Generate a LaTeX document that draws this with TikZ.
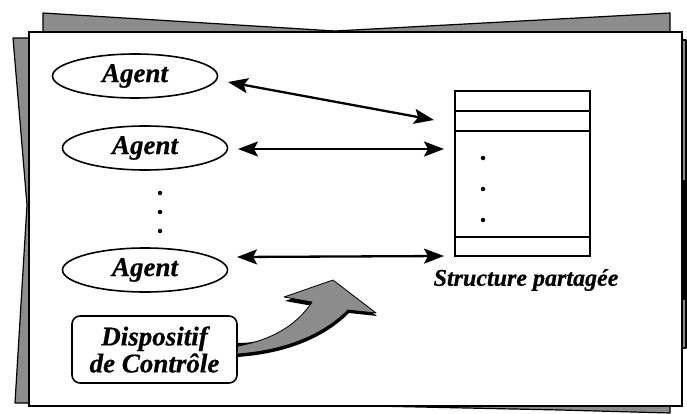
\documentclass[tikz,border=0pt]{standalone}
\usepackage{fontspec}
\setmainfont{Liberation Serif}[BoldItalicFeatures={FakeBold=0.6}]
\usetikzlibrary{shapes.geometric,arrows.meta}
\begin{document}
\begin{tikzpicture}[x=1pt,y=-1pt,
  backfill/.style={fill=black!45,draw=black,line width=1.2pt,line join=round},
  agent/.style={ellipse,draw,line width=1.6pt,minimum width=165pt,minimum height=44pt,inner sep=0pt,
     font=\fontsize{27}{28}\selectfont\bfseries\itshape},
  ctrl/.style={draw,line width=1.6pt,rounded corners=8pt,minimum width=165pt,minimum height=67pt,
     align=center,inner sep=0pt,font=\fontsize{27}{28}\selectfont\bfseries\itshape},
  memo/.style={draw,line width=1.6pt,minimum width=135pt,minimum height=165pt,inner sep=0pt},
  label/.style={font=\fontsize{24}{26}\selectfont\bfseries\itshape,inner sep=0pt},
  link/.style={line width=2.3pt,{Stealth[length=20pt,width=15pt,inset=4pt]}-{Stealth[length=20pt,width=15pt,inset=4pt]}},
  dotm/.style={fill=black,circle,inner sep=0pt,minimum size=4.5pt}]
\useasboundingbox (0,0) rectangle (687,414);
% back sheet pieces
\path[backfill] (43,36) -- (43,13) -- (335,31) -- (670,13) -- (670,36) -- cycle;
\path[backfill] (31,38) -- (13,38) -- (27,205) -- (15,403) -- (31,403) -- cycle;
\path[backfill] (680,40) -- (686,40) -- (686,348) -- (680,348) -- cycle;
\fill[black] (682,180) rectangle (686,300);
\path[backfill] (280,404) -- (670,404) -- (670,413) -- (560,410) -- cycle;
% front sheet
\draw[fill=white,line width=1.5pt] (29,32) rectangle (682,406);
% agents
\node[agent] (e1) at (135,76) {Agent};
\node[agent] (e2) at (145,148) {Agent};
\node[agent] (e3) at (145,270) {Agent};
\node[dotm] (d1) at (160,193) {};
\node[dotm] (d2) at (160,212) {};
\node[dotm] (d3) at (160,231) {};
% control
\node[ctrl] (c) at (154.5,349.5) {Dispositif\\[-1pt]de Contrôle};
% shared structure
\node[memo] (sp) at (522.5,173.5) {};
\draw[line width=1.6pt] (sp.west |- 0,111) -- (sp.east |- 0,111);
\draw[line width=1.6pt] (sp.west |- 0,131) -- (sp.east |- 0,131);
\draw[line width=1.6pt] (sp.west |- 0,237) -- (sp.east |- 0,237);
\node[dotm] (s1) at (483,158) {};
\node[dotm] (s2) at (483,189) {};
\node[dotm] (s3) at (483,220) {};
\node[label] (lab) at (526,280) {Structure partagée};
% connectors
\coordinate (a1l) at (228,82);  \coordinate (a1r) at (434,120);
\coordinate (a2l) at (238,149); \coordinate (a2r) at (444,149);
\coordinate (a3l) at (237,257); \coordinate (a3r) at (444,256);
\draw[link] (a1l) -- (a1r);
\draw[link] (a2l) -- (a2r);
\draw[link] (a3l) -- (a3r);
% big curved arrow
\fill[black] ([yshift=3pt]c.east |- 0,346) .. controls (272,343) and (297,328) .. (313,306) -- (285,301) -- (334,284) -- (377,316) -- (349,313) .. controls (322,340) and (282,354) .. (237,357) -- cycle;
\draw[fill=black!45,line width=0.8pt,line join=round] (c.east |- 0,346) .. controls (272,340) and (297,325) .. (312,302) -- (284,297) -- (333,280) -- (376,313) -- (348,310) .. controls (321,337) and (281,351) .. (237,354) -- cycle;
\end{tikzpicture}
\end{document}
